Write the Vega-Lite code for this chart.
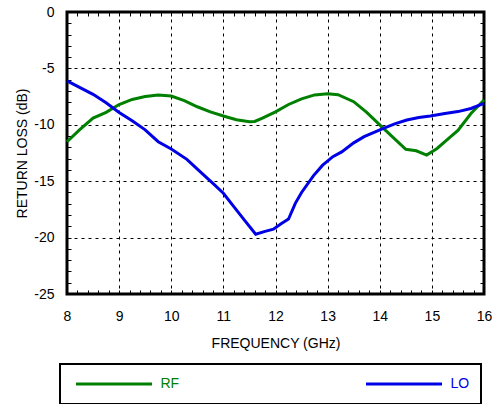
{
  "$schema": "https://vega.github.io/schema/vega-lite/v6.json",
  "width": 417,
  "height": 282,
  "autosize": {"type": "none"},
  "padding": {"left": 67, "top": 12, "right": 8, "bottom": 110},
  "background": "white",
  "config": {
    "font": "Liberation Sans",
    "view": {"stroke": "black", "strokeWidth": 3},
    "axis": {
      "domain": false,
      "tickColor": "black",
      "tickWidth": 1,
      "labelColor": "black",
      "titleColor": "black",
      "labelFontSize": 14,
      "titleFontSize": 14,
      "titleFontWeight": "normal",
      "labelFlush": false,
      "labelOverlap": false,
      "gridColor": "black",
      "gridDash": [3, 4],
      "gridWidth": 1
    }
  },
  "data": {
    "values": [
      {"f": 8.0, "rl": -11.5, "s": "RF"},
      {"f": 8.25, "rl": -10.4, "s": "RF"},
      {"f": 8.5, "rl": -9.4, "s": "RF"},
      {"f": 8.75, "rl": -8.9, "s": "RF"},
      {"f": 9.0, "rl": -8.2, "s": "RF"},
      {"f": 9.25, "rl": -7.75, "s": "RF"},
      {"f": 9.5, "rl": -7.5, "s": "RF"},
      {"f": 9.75, "rl": -7.36, "s": "RF"},
      {"f": 10.0, "rl": -7.45, "s": "RF"},
      {"f": 10.25, "rl": -7.85, "s": "RF"},
      {"f": 10.5, "rl": -8.4, "s": "RF"},
      {"f": 10.75, "rl": -8.85, "s": "RF"},
      {"f": 11.0, "rl": -9.22, "s": "RF"},
      {"f": 11.25, "rl": -9.55, "s": "RF"},
      {"f": 11.5, "rl": -9.72, "s": "RF"},
      {"f": 11.6, "rl": -9.7, "s": "RF"},
      {"f": 11.75, "rl": -9.4, "s": "RF"},
      {"f": 12.0, "rl": -8.85, "s": "RF"},
      {"f": 12.25, "rl": -8.2, "s": "RF"},
      {"f": 12.5, "rl": -7.7, "s": "RF"},
      {"f": 12.75, "rl": -7.35, "s": "RF"},
      {"f": 13.0, "rl": -7.25, "s": "RF"},
      {"f": 13.2, "rl": -7.33, "s": "RF"},
      {"f": 13.5, "rl": -7.95, "s": "RF"},
      {"f": 13.75, "rl": -8.9, "s": "RF"},
      {"f": 14.0, "rl": -10.0, "s": "RF"},
      {"f": 14.25, "rl": -11.1, "s": "RF"},
      {"f": 14.5, "rl": -12.17, "s": "RF"},
      {"f": 14.7, "rl": -12.3, "s": "RF"},
      {"f": 14.9, "rl": -12.68, "s": "RF"},
      {"f": 15.1, "rl": -12.1, "s": "RF"},
      {"f": 15.3, "rl": -11.3, "s": "RF"},
      {"f": 15.5, "rl": -10.5, "s": "RF"},
      {"f": 15.75, "rl": -9.0, "s": "RF"},
      {"f": 16.0, "rl": -7.8, "s": "RF"},
      {"f": 8.0, "rl": -6.1, "s": "LO"},
      {"f": 8.25, "rl": -6.7, "s": "LO"},
      {"f": 8.5, "rl": -7.3, "s": "LO"},
      {"f": 8.75, "rl": -8.05, "s": "LO"},
      {"f": 9.0, "rl": -8.9, "s": "LO"},
      {"f": 9.25, "rl": -9.65, "s": "LO"},
      {"f": 9.5, "rl": -10.45, "s": "LO"},
      {"f": 9.75, "rl": -11.5, "s": "LO"},
      {"f": 10.0, "rl": -12.15, "s": "LO"},
      {"f": 10.3, "rl": -13.06, "s": "LO"},
      {"f": 10.6, "rl": -14.35, "s": "LO"},
      {"f": 10.8, "rl": -15.2, "s": "LO"},
      {"f": 11.0, "rl": -16.07, "s": "LO"},
      {"f": 11.2, "rl": -17.25, "s": "LO"},
      {"f": 11.4, "rl": -18.43, "s": "LO"},
      {"f": 11.62, "rl": -19.7, "s": "LO"},
      {"f": 11.8, "rl": -19.45, "s": "LO"},
      {"f": 11.96, "rl": -19.25, "s": "LO"},
      {"f": 12.1, "rl": -18.8, "s": "LO"},
      {"f": 12.25, "rl": -18.35, "s": "LO"},
      {"f": 12.38, "rl": -16.96, "s": "LO"},
      {"f": 12.5, "rl": -16.0, "s": "LO"},
      {"f": 12.73, "rl": -14.5, "s": "LO"},
      {"f": 12.9, "rl": -13.6, "s": "LO"},
      {"f": 13.1, "rl": -12.83, "s": "LO"},
      {"f": 13.27, "rl": -12.4, "s": "LO"},
      {"f": 13.5, "rl": -11.6, "s": "LO"},
      {"f": 13.7, "rl": -11.05, "s": "LO"},
      {"f": 14.07, "rl": -10.31, "s": "LO"},
      {"f": 14.3, "rl": -9.9, "s": "LO"},
      {"f": 14.52, "rl": -9.57, "s": "LO"},
      {"f": 14.75, "rl": -9.35, "s": "LO"},
      {"f": 14.97, "rl": -9.22, "s": "LO"},
      {"f": 15.25, "rl": -9.0, "s": "LO"},
      {"f": 15.5, "rl": -8.83, "s": "LO"},
      {"f": 15.75, "rl": -8.55, "s": "LO"},
      {"f": 16.0, "rl": -8.1, "s": "LO"}
    ]
  },
  "layer": [
    {
      "mark": {"type": "line", "strokeWidth": 3},
      "encoding": {
        "x": {
          "field": "f",
          "type": "quantitative",
          "scale": {"domain": [8, 16], "nice": false, "zero": false},
          "axis": {
            "orient": "bottom",
            "title": "FREQUENCY (GHz)",
            "values": [8, 8.2, 8.4, 8.6, 8.8, 9, 9.2, 9.4, 9.6, 9.8, 10, 10.2, 10.4, 10.6, 10.8, 11, 11.2, 11.4, 11.6, 11.8, 12, 12.2, 12.4, 12.6, 12.8, 13, 13.2, 13.4, 13.6, 13.8, 14, 14.2, 14.4, 14.6, 14.8, 15, 15.2, 15.4, 15.6, 15.8, 16],
            "labelExpr": "abs(datum.value - round(datum.value)) < 0.01 ? '' + round(datum.value) : ''",
            "grid": true,
            "gridOpacity": {"condition": {"test": "abs(datum.value - round(datum.value)) < 0.01", "value": 1}, "value": 0},
            "tickSize": -4,
            "labelPadding": 19,
            "titlePadding": 13
          }
        },
        "y": {
          "field": "rl",
          "type": "quantitative",
          "scale": {"domain": [-25, 0], "nice": false, "zero": false},
          "axis": {
            "orient": "left",
            "title": "RETURN LOSS (dB)",
            "values": [-25, -24, -23, -22, -21, -20, -19, -18, -17, -16, -15, -14, -13, -12, -11, -10, -9, -8, -7, -6, -5, -4, -3, -2, -1, 0],
            "labelExpr": "datum.value % 5 === 0 ? '' + datum.value : ''",
            "grid": true,
            "gridOpacity": {"condition": {"test": "datum.value % 5 === 0", "value": 1}, "value": 0},
            "tickSize": -4,
            "labelPadding": 17,
            "titlePadding": 4
          }
        },
        "color": {
          "field": "s",
          "type": "nominal",
          "scale": {"domain": ["RF", "LO"], "range": ["#008000", "#0000e6"]},
          "legend": {
            "orient": "none",
            "legendX": -7,
            "legendY": 352,
            "direction": "horizontal",
            "columns": 2,
            "title": null,
            "strokeColor": "black",
            "padding": 11,
            "clipHeight": 18,
            "symbolType": "stroke",
            "symbolSize": 5776,
            "symbolStrokeWidth": 3,
            "symbolOffset": 3.5,
            "labelOffset": 7,
            "columnPadding": 181,
            "labelFontSize": 14,
            "encode": {
              "legend": {"update": {"strokeWidth": {"value": 2}}},
              "labels": {"update": {"fill": {"scale": "color", "field": "value"}}}
            }
          }
        }
      }
    },
    {
      "mark": {"type": "point", "opacity": 0},
      "encoding": {
        "x": {
          "field": "f",
          "type": "quantitative",
          "scale": {"domain": [8, 16], "nice": false, "zero": false},
          "axis": {
            "orient": "top",
            "title": null,
            "labels": false,
            "grid": false,
            "values": [8, 8.2, 8.4, 8.6, 8.8, 9, 9.2, 9.4, 9.6, 9.8, 10, 10.2, 10.4, 10.6, 10.8, 11, 11.2, 11.4, 11.6, 11.8, 12, 12.2, 12.4, 12.6, 12.8, 13, 13.2, 13.4, 13.6, 13.8, 14, 14.2, 14.4, 14.6, 14.8, 15, 15.2, 15.4, 15.6, 15.8, 16],
            "tickSize": -4
          }
        },
        "y": {
          "field": "rl",
          "type": "quantitative",
          "scale": {"domain": [-25, 0], "nice": false, "zero": false},
          "axis": {
            "orient": "right",
            "title": null,
            "labels": false,
            "grid": false,
            "values": [-25, -24, -23, -22, -21, -20, -19, -18, -17, -16, -15, -14, -13, -12, -11, -10, -9, -8, -7, -6, -5, -4, -3, -2, -1, 0],
            "tickSize": -4
          }
        }
      }
    }
  ],
  "resolve": {"axis": {"x": "independent", "y": "independent"}}
}
